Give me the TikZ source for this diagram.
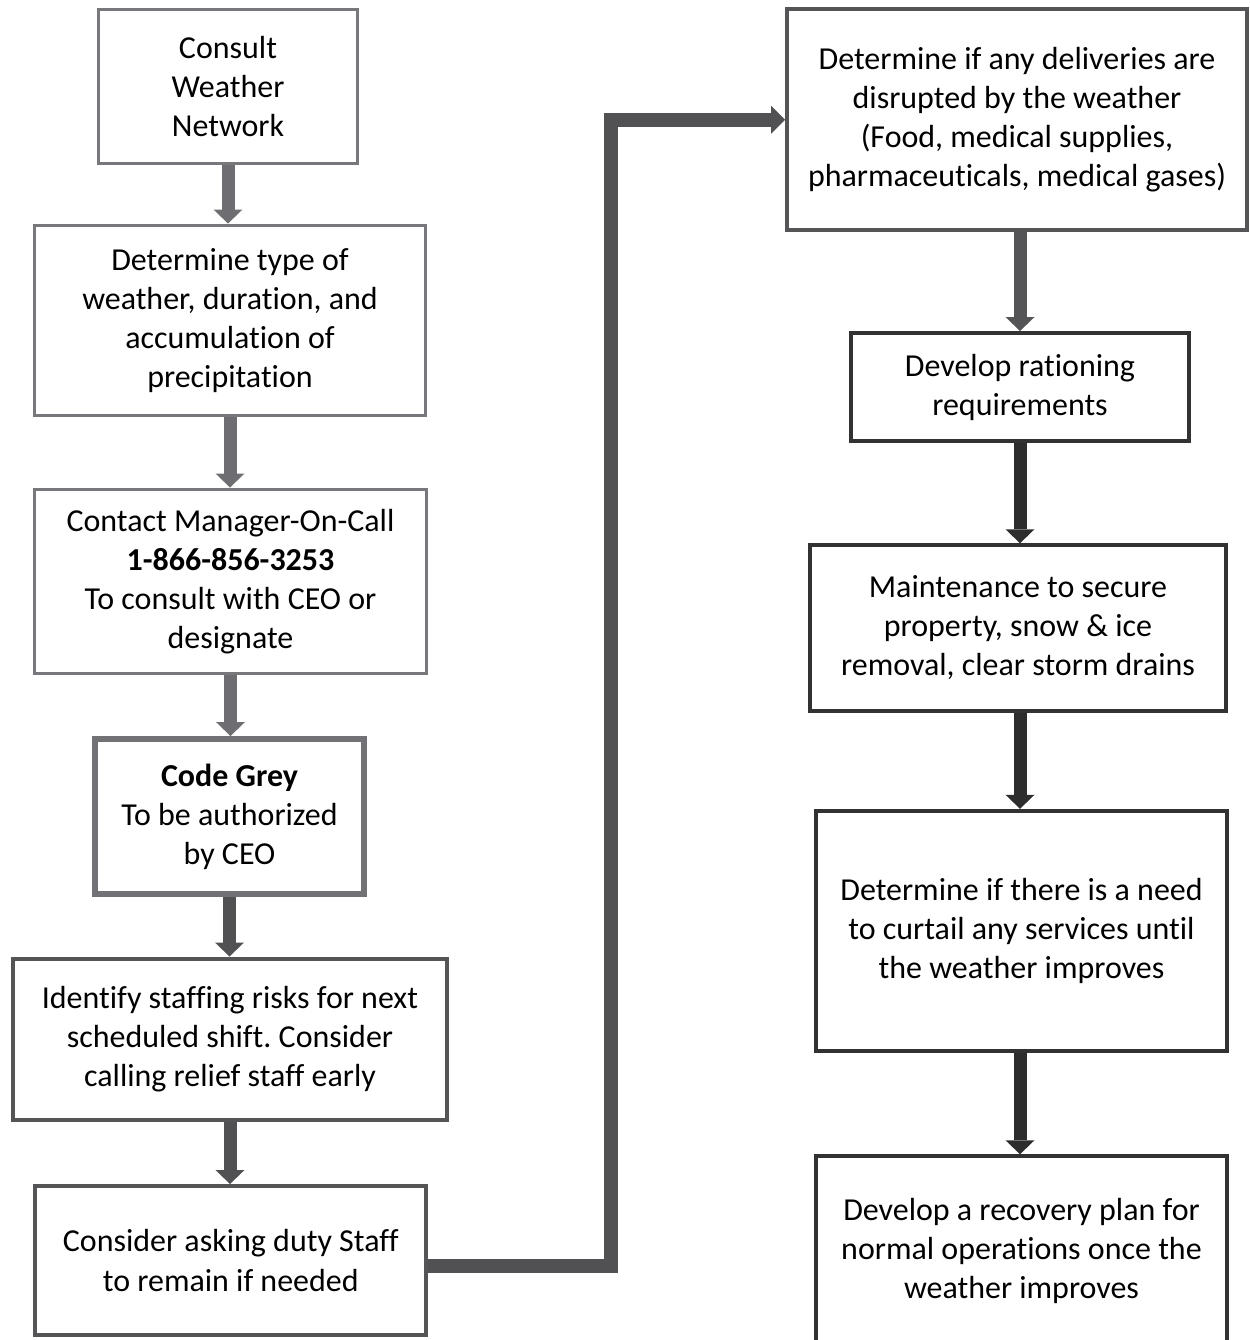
\documentclass[tikz,border=0pt]{standalone}
\usepackage{fontspec}
\setmainfont{Carlito}[RawFeature={-liga;-clig;-calt;-dlig}]
\usepackage{xcolor}
\usetikzlibrary{arrows.meta}
\definecolor{greyA}{RGB}{120,119,124}
\definecolor{greyB}{RGB}{110,109,114}
\definecolor{greyC}{RGB}{85,85,87}
\definecolor{greyD}{RGB}{50,50,50}
\definecolor{greyE}{RGB}{45,45,45}
\frenchspacing

\begin{document}
\begin{tikzpicture}%
        [x=0.02cm, y=-0.02cm,
        box/.style={draw, rectangle, inner sep=0pt, align=center, text=black,
                    font=\fontsize{18.2}{22.2}\selectfont},
        boxlight/.style={box, draw=greyA, line width=0.06cm},
        boxcode/.style={box, draw=greyA!95!black, line width=0.12cm},
        boxmid/.style={box, draw=greyC, line width=0.08cm},
        boxdark/.style={box, draw=greyD, line width=0.08cm},
        arr/.style={line width=0.26cm, -{Triangle[width=0.58cm, length=0.28cm, line width=0pt]}},
        link/.style={line width=0.28cm, draw=greyC!95!black, -{Triangle[width=0.56cm, length=0.28cm, line width=0pt]}}]
    \path[use as bounding box, clip] (0,0) rectangle (1249,1340);
    %% Left column
    \node[boxlight, minimum width=5.18cm, minimum height=3.08cm] (consult) at (228,86.5)
        {Consult\\Weather\\Network};
    \node[boxlight, minimum width=7.84cm, minimum height=3.82cm] (weather) at (230,320.5)
        {Determine type of\\weather, duration, and\\accumulation of\\precipitation};
    \node[boxlight, minimum width=7.86cm, minimum height=3.70cm] (manager) at (230.5,581.5)
        {Contact Manager-On-Call\\\textbf{1-866-856-3253}\\To consult with CEO or\\designate};
    \node[boxcode, minimum width=5.38cm, minimum height=3.11cm] (codegrey) at (229.5,816.75)
        {\textbf{Code Grey}\\To be authorized\\by CEO};
    \node[boxmid, minimum width=8.70cm, minimum height=3.24cm] (staffing) at (230,1039.5)
        {Identify staffing risks for next\\scheduled shift. Consider\\calling relief staff early};
    \node[boxmid, minimum width=7.83cm, minimum height=2.98cm] (duty) at (230.75,1260.5)
        {Consider asking duty Staff\\to remain if needed};
    %% Right column
    \node[boxmid, minimum width=9.20cm, minimum height=4.43cm] (deliveries) at (1017,119.75)
        {Determine if any deliveries are\\disrupted by the weather\\(Food, medical supplies,\\pharmaceuticals, medical gases)};
    \node[boxdark, minimum width=6.75cm, minimum height=2.16cm] (rationing) at (1020,387)
        {Develop rationing\\requirements};
    \node[boxdark, minimum width=8.34cm, minimum height=3.31cm] (maintenance) at (1018,628)
        {Maintenance to secure\\property, snow \& ice\\removal, clear storm drains};
    \node[boxdark, minimum width=8.24cm, minimum height=4.81cm] (curtail) at (1021.5,931)
        {Determine if there is a need\\to curtail any services until\\the weather improves};
    \node[boxdark, minimum width=8.24cm, minimum height=3.79cm] (recovery) at (1021.5,1251)
        {Develop a recovery plan for\\normal operations once the\\weather improves};
    %%
    %% Arrows
    \draw[arr, draw=greyB] (consult.south) -- (consult.south |- weather.north);
    \draw[arr, draw=greyB] (weather.south) -- (weather.south |- manager.north);
    \draw[arr, draw=greyB] (manager.south) -- (manager.south |- codegrey.north);
    \draw[arr, draw=greyC!95!black] (codegrey.south) -- (codegrey.south |- staffing.north);
    \draw[arr, draw=greyC!95!black] (staffing.south) -- (staffing.south |- duty.north);
    \coordinate (elbow) at (611,700);
    \draw[link] ([yshift=-0.1cm]duty.east) -| (elbow) |- (deliveries.west);
    \draw[arr, draw=greyC] (rationing.north |- deliveries.south) -- (rationing.north);
    \draw[arr, draw=greyE] (rationing.south) -- (rationing.south |- maintenance.north);
    \draw[arr, draw=greyE] (rationing.south |- maintenance.south) -- (rationing.south |- curtail.north);
    \draw[arr, draw=greyE] (rationing.south |- curtail.south) -- (rationing.south |- recovery.north);
\end{tikzpicture}
\end{document}
